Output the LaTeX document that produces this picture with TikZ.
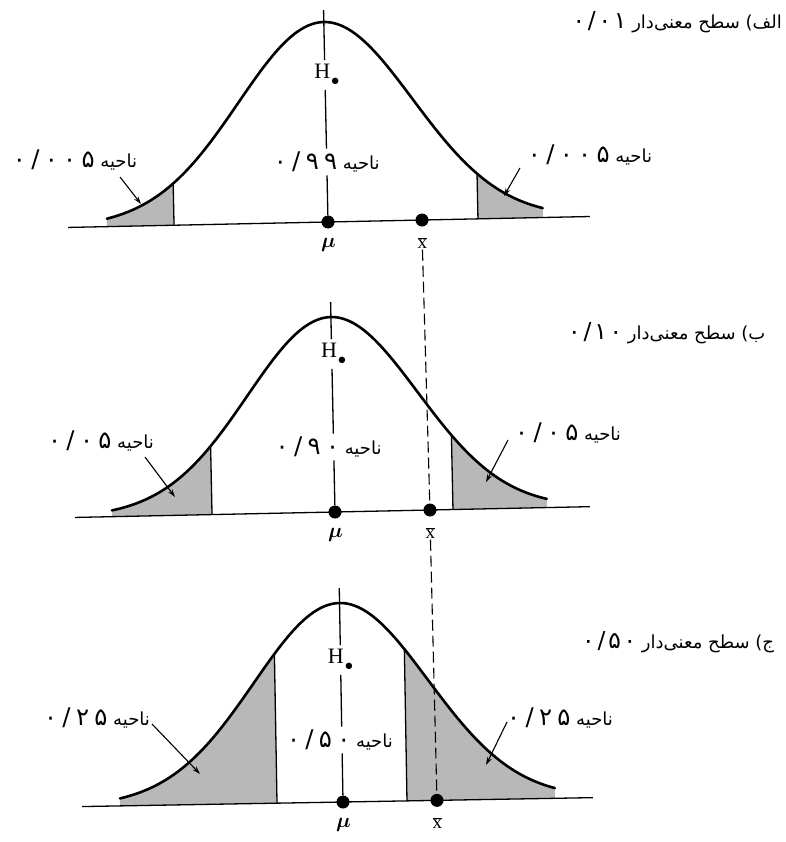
\documentclass[tikz,border=0pt]{standalone}
\usepackage{fontspec}
\setmainfont{Liberation Serif}
\newfontfamily\fa[Script=Arabic]{DejaVu Sans}
\newfontfamily\fanum[Script=Arabic,LetterSpace=22,Scale=1.35]{DejaVu Sans}
\newfontfamily\fanumt[Script=Arabic,LetterSpace=12,Scale=1.3]{DejaVu Sans}
\TeXXeTstate=1
\usetikzlibrary{arrows.meta}
\newcommand\fatext[2]{\beginR #1 \beginL{\fanum #2}\endL\endR}
\newcommand\fatitle[2]{\beginR #1 \beginL{\fanumt #2}\endL\endR}
\newcommand\hnull{H\raisebox{-7pt}{\kern1pt\scalebox{0.8}{$\bullet$}}}
\newcommand\xbarsym{$\overline{\mbox{x}}$}
\begin{document}
\begin{tikzpicture}[x=1pt,y=-1pt,
  curve/.style={line width=2.6pt,line cap=round},
  base/.style={line width=1.3pt},
  vline/.style={line width=1.3pt},
  shadefill/.style={fill=black!28},
  dot/.style={circle,fill=black,inner sep=0pt,minimum size=13pt},
  lbl/.style={font=\fa\fontsize{18}{20}\selectfont,inner sep=3pt},
  ttl/.style={font=\fa\fontsize{18}{20}\selectfont,inner sep=0pt},
  arr/.style={line width=1.1pt,-{Stealth[length=8pt,width=5pt]}},
  xdash/.style={line width=1.1pt,dash pattern=on 11pt off 5pt},
  hsym/.style={font=\fontsize{22}{24}\selectfont,inner sep=4pt},
  musym/.style={font=\fontsize{21}{23}\selectfont\boldmath,inner sep=1pt},
  xsym/.style={font=\fontsize{19}{21}\selectfont,inner sep=1pt},
]
\useasboundingbox (0,0) rectangle (785,842);
\fill[white] (0,0) rectangle (785,842);

% ---------------- panel A ----------------
\begin{scope}[shift={(328,222)},rotate=1.2]
  \def\pk{200}\def\sg{87}
  \fill[shadefill] (-221,0) -- plot[domain=-221:-154,samples=30] (\x,{-\pk*exp(-0.5*(\x/\sg)^2)}) -- (-154,0) -- cycle;
  \fill[shadefill] (150,0) -- plot[domain=150:215,samples=30] (\x,{-\pk*exp(-0.5*(\x/\sg)^2)}) -- (215,0) -- cycle;
  \draw[vline] (-154,0) -- (-154,{-\pk*exp(-0.5*(154/\sg)^2)});
  \draw[vline] (150,0) -- (150,{-\pk*exp(-0.5*(150/\sg)^2)});
  \draw[curve] plot[domain=-221:215,samples=120] (\x,{-\pk*exp(-0.5*(\x/\sg)^2)});
  \draw[base] (-260,0) -- (262,0);
  \node[dot] (muA) at (0,0) {};
  \node[dot] (xA) at (94,0) {};
  \node[musym] (muLA) at (0,23) {$\mu$};
  \node[xsym] (xLA) at (94,23) {\xbarsym};
  \node[hsym] (hA) at (2,-147) {\hnull};
  \node[lbl] (cA) at (0,-60) {\fatext{ناحیه}{۰/۹۹}};
  \coordinate (tA) at (0,-212);
  \draw[vline] (tA) -- (hA.north -| tA);
  \draw[vline] (hA.south -| tA) -- (cA.north -| tA);
  \draw[vline] (cA.south -| tA) -- (muA);
\end{scope}
\node[lbl] (lA) at (75,160) {\fatext{ناحیه}{۰/۰۰۵}};
\node[lbl] (rA) at (590,155) {\fatext{ناحیه}{۰/۰۰۵}};
\coordinate (lAs) at (120,177);
\coordinate (lAt) at (141,204);
\coordinate (rAs) at (520,168);
\coordinate (rAt) at (504,196);
\draw[arr] (lAs) -- (lAt);
\draw[arr] (rAs) -- (rAt);
\node[ttl,anchor=east] (tiA) at (782,22) {\fatitle{الف) سطح معنی‌دار}{۰/۰۱}};

% ---------------- panel B ----------------
\begin{scope}[shift={(335,512)},rotate=1.2]
  \def\pk{195}\def\sg{85}
  \fill[shadefill] (-223,0) -- plot[domain=-223:-123,samples=30] (\x,{-\pk*exp(-0.5*(\x/\sg)^2)}) -- (-123,0) -- cycle;
  \fill[shadefill] (118,0) -- plot[domain=118:212,samples=30] (\x,{-\pk*exp(-0.5*(\x/\sg)^2)}) -- (212,0) -- cycle;
  \draw[vline] (-123,0) -- (-123,{-\pk*exp(-0.5*(123/\sg)^2)});
  \draw[vline] (118,0) -- (118,{-\pk*exp(-0.5*(118/\sg)^2)});
  \draw[curve] plot[domain=-223:212,samples=120] (\x,{-\pk*exp(-0.5*(\x/\sg)^2)});
  \draw[base] (-260,0) -- (255,0);
  \node[dot] (muB) at (0,0) {};
  \node[dot] (xB) at (95,0) {};
  \node[musym] (muLB) at (0,23) {$\mu$};
  \node[xsym] (xLB) at (95,23) {\xbarsym};
  \node[hsym] (hB) at (2,-158) {\hnull};
  \node[lbl] (cB) at (-5,-65) {\fatext{ناحیه}{۰/۹۰}};
  \coordinate (tB) at (0,-210);
  \draw[vline] (tB) -- (hB.north -| tB);
  \draw[vline] (hB.south -| tB) -- (cB.north -| tB);
  \draw[vline] (cB.south -| tB) -- (muB);
\end{scope}
\node[lbl] (lB) at (101,441) {\fatext{ناحیه}{۰/۰۵}};
\node[lbl] (rB) at (568,433) {\fatext{ناحیه}{۰/۰۵}};
\coordinate (lBs) at (145,457);
\coordinate (lBt) at (175,497);
\coordinate (rBs) at (508,440);
\coordinate (rBt) at (486,482);
\draw[arr] (lBs) -- (lBt);
\draw[arr] (rBs) -- (rBt);
\node[ttl,anchor=west] (tiB) at (568,333) {\fatitle{ب) سطح معنی‌دار}{۰/۱۰}};

% ---------------- panel C ----------------
\begin{scope}[shift={(343,802)},rotate=1.0]
  \def\pk{199}\def\sg{87}
  \fill[shadefill] (-223,0) -- plot[domain=-223:-66,samples=40] (\x,{-\pk*exp(-0.5*(\x/\sg)^2)}) -- (-66,0) -- cycle;
  \fill[shadefill] (64,0) -- plot[domain=64:212,samples=40] (\x,{-\pk*exp(-0.5*(\x/\sg)^2)}) -- (212,0) -- cycle;
  \draw[vline] (-66,0) -- (-66,{-\pk*exp(-0.5*(66/\sg)^2)});
  \draw[vline] (64,0) -- (64,{-\pk*exp(-0.5*(64/\sg)^2)});
  \draw[curve] plot[domain=-223:212,samples=120] (\x,{-\pk*exp(-0.5*(\x/\sg)^2)});
  \draw[base] (-261,0) -- (250,0);
  \node[dot] (muC) at (0,0) {};
  \node[dot] (xC) at (94,0) {};
  \node[musym] (muLC) at (0,23) {$\mu$};
  \node[xsym] (xLC) at (94,23) {\xbarsym};
  \node[hsym] (hC) at (0,-142) {\hnull};
  \node[lbl] (cC) at (-2,-62) {\fatext{ناحیه}{۰/۵۰}};
  \coordinate (tC) at (0,-214);
  \draw[vline] (tC) -- (hC.north -| tC);
  \draw[vline] (hC.south -| tC) -- (cC.north -| tC);
  \draw[vline] (cC.south -| tC) -- (muC);
\end{scope}
\node[lbl] (lC) at (97,718) {\fatext{ناحیه}{۰/۲۵}};
\node[lbl] (rC) at (560,718) {\fatext{ناحیه}{۰/۲۵}};
\coordinate (lCs) at (152,724);
\coordinate (lCt) at (200,774);
\coordinate (rCs) at (507,722);
\coordinate (rCt) at (486,765);
\draw[arr] (lCs) -- (lCt);
\draw[arr] (rCs) -- (rCt);
\node[ttl,anchor=west] (tiC) at (582,642) {\fatitle{ج) سطح معنی‌دار}{۰/۵۰}};

% ---------------- x-bar connector ----------------
\draw[xdash] (xLA.south) -- (xB);
\draw[xdash] (xLB.south) -- (xC);
\end{tikzpicture}
\end{document}
